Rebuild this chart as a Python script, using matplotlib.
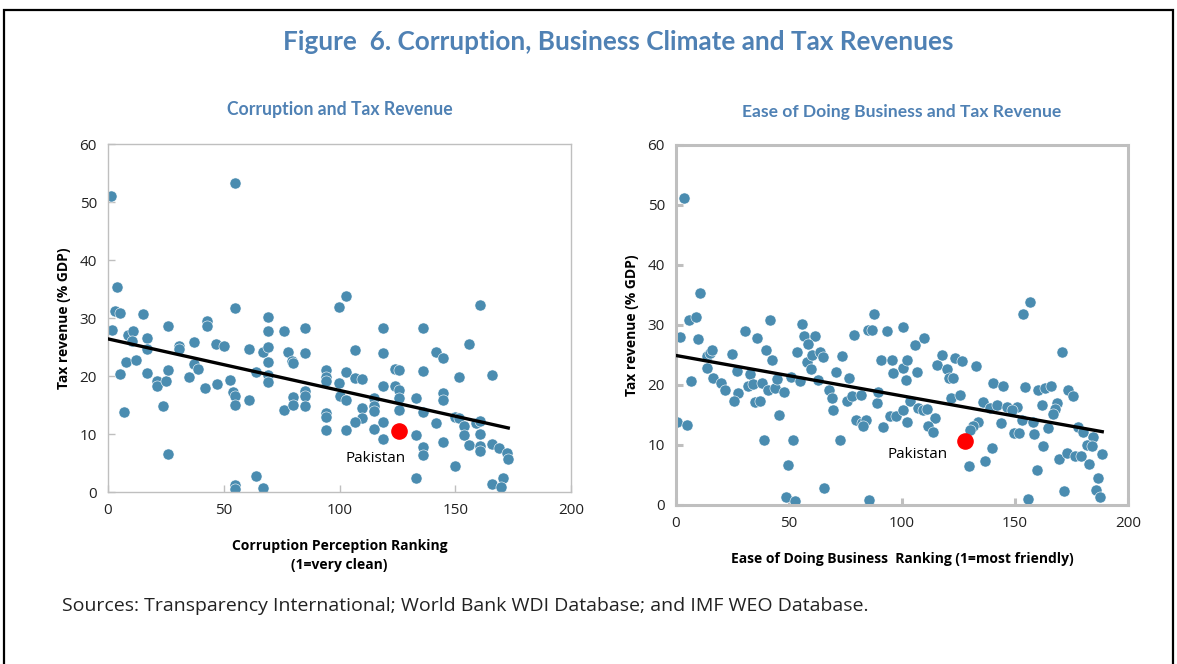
import numpy as np
import matplotlib
matplotlib.use("Agg")
import matplotlib.pyplot as plt
from matplotlib.patches import Rectangle

# Corruption Perception ranking vs tax revenue (% of GDP)
cpi_rank = [1.2, 54.9, 4, 2.9, 5.2, 15, 42.8, 54.9, 69, 99.7, 102.8, 1.9, 25.9, 42.9, 69, 75.9,
            84.9, 8.8, 10.9, 10.2, 17, 17, 30.8, 30.8, 37, 46.8, 50, 60.9, 66.8, 69, 69, 77.9,
            79.3, 80, 84.9, 7.9, 11.9, 5, 17, 21, 21, 25, 25.9, 35, 37, 39, 42, 46.9, 52.9,
            53.8, 54.9, 54.9, 60.9, 64, 69, 69, 75.9, 80, 80, 84.9, 84.9, 84.9, 94, 94, 94,
            94, 94, 94, 99.9, 100, 102.8, 102.8, 102.8, 23.9, 6.9, 25.9, 54.9, 54.9, 64, 67,
            160.9, 118.9, 135.9, 106.8, 118.9, 141.9, 144.8, 155.8, 124, 125.8, 135.9, 151.7,
            165.7, 106.8, 109.8, 118.9, 124, 125.8, 125.8, 132.9, 144.8, 144.8, 114.9, 114.9,
            114.9, 109.8, 109.8, 125.8, 135.9, 106.8, 118.9, 114.9, 118.9, 141.9, 149.8, 151.7,
            153.8, 153.8, 159, 160.9, 160.9, 132.9, 144.8, 155.8, 160.9, 160.9, 135.9, 135.9,
            165.7, 169, 172.2, 172.9, 149.8, 132.9, 165.7, 170.8, 169.9]
cpi_tax = [51.1, 53.2, 35.3, 31.2, 30.9, 30.7, 29.4, 31.8, 30.2, 31.9, 33.8, 28.0, 28.7, 28.7,
           27.8, 27.8, 28.3, 27.0, 27.7, 26.0, 26.5, 24.6, 25.2, 24.6, 25.8, 25.5, 25.1, 24.6,
           24.2, 25.0, 22.5, 24.2, 22.6, 22.2, 23.9, 22.4, 22.8, 20.3, 20.6, 19.1, 18.2, 19.1,
           21.1, 19.9, 22.0, 21.2, 17.9, 18.6, 19.3, 17.3, 16.5, 15.0, 15.9, 20.7, 20.2, 18.9,
           14.1, 16.4, 15.0, 17.5, 16.5, 14.8, 21.1, 19.9, 19.1, 13.6, 12.9, 10.7, 18.8, 16.5,
           20.7, 15.9, 10.7, 14.8, 13.8, 6.6, 1.2, 0.5, 2.7, 0.75,
           32.3, 28.2, 28.2, 24.4, 23.9, 24.2, 23.1, 25.5, 21.2, 21.1, 20.9, 19.9, 20.2, 19.7,
           19.4, 18.3, 18.3, 17.6, 16.2, 16.2, 17.1, 15.9, 16.2, 14.9, 14.0, 14.4, 12.7, 14.1,
           13.8, 12.1, 12.1, 10.8, 9.2, 11.9, 12.9, 12.7, 11.4, 9.9, 11.9, 12.2, 10.0, 9.9,
           8.6, 8.1, 8.0, 7.1, 7.7, 6.4, 8.3, 7.6, 6.7, 5.7, 4.4, 2.4, 1.4, 2.4, 0.8]

# Ease of Doing Business ranking vs tax revenue (% of GDP)
dbiz_rank = [3.5, 10.6, 5.8, 8.7, 30.7, 41.6, 55.8, 87.6, 85.1, 86.6, 93.5, 100.6, 1.8, 9.9,
             35.7, 56.8, 61.5, 58.5, 78.8, 13.6, 15, 15.8, 24.6, 39.7, 42.6, 53.7, 57.8, 60,
             63.7, 64.9, 59.7, 73.6, 90.6, 95.7, 100.6, 102.3, 13.6, 16.5, 19.9, 21.7, 26.8,
             32.7, 27.6, 25.7, 31.7, 33.9, 37.9, 35, 37.2, 40.9, 43.8, 44.6, 47.8, 50.8, 54.9,
             63, 70.7, 76.7, 67.7, 68.9, 69.6, 75.5, 77.7, 81.9, 88.8, 89.5, 79.6, 82.2, 84.1,
             82.9, 91.7, 94.7, 97.2, 100.6, 102.3, 6.8, 0.6, 4.7, 45.7, 38.9, 51.8, 72.6, 49.6,
             65.6, 48.7, 52.7, 85.5,
             153.7, 156.6, 105.8, 109.7, 170.7, 96.2, 101.8, 106.8, 115.6, 117.6, 119.8, 121,
             122.7, 123.5, 126.4, 132.7, 121.7, 125.7, 103.5, 107.2, 109.4, 110.9, 114.6, 111.6,
             113.6, 133.8, 131.6, 130.1, 139.7, 136.7, 129.6, 140.4, 144.8, 154.4, 160.3, 163.3,
             165.9, 173.6, 175.8, 135.7, 138.9, 141.9, 146.6, 150.7, 148.5, 161.8, 168.4, 167.7,
             166.7, 143.7, 153, 157.8, 164.7, 149.6, 151.9, 158.5, 162.5, 178, 180, 184.6,
             181.7, 183.9, 188.6, 169.6, 172.9, 176.5, 179.1, 182.7, 159.6, 171.7, 186.6,
             185.8, 187.6, 155.6]
dbiz_tax = [51.1, 35.3, 30.9, 31.3, 29.0, 30.8, 30.2, 31.8, 29.2, 29.1, 29.0, 29.6, 28.0, 27.7,
            27.9, 28.2, 28.2, 26.9, 28.4, 24.8, 25.4, 25.8, 25.2, 25.8, 24.1, 25.5, 23.8, 25.0,
            25.5, 24.6, 22.6, 24.8, 24.1, 24.1, 22.8, 24.1, 22.8, 21.2, 20.3, 19.2, 22.3, 21.8,
            18.7, 17.4, 19.8, 20.1, 20.3, 17.1, 17.4, 19.2, 19.5, 21.0, 18.8, 21.4, 20.7, 20.9,
            22.2, 21.2, 19.1, 17.9, 15.9, 17.3, 18.2, 18.4, 17.0, 18.8, 14.2, 13.7, 14.2, 13.2,
            13.0, 14.8, 14.8, 15.9, 13.9, 20.6, 13.9, 13.4, 15.0, 10.9, 10.9, 10.9, 6.7, 2.8,
            1.4, 0.7, 0.8,
            31.9, 33.8, 26.6, 27.9, 25.5, 22.0, 20.9, 22.2, 23.4, 25.0, 22.6, 21.2, 21.2, 24.5,
            24.0, 23.1, 17.8, 18.3, 17.4, 16.2, 15.9, 16.0, 14.5, 13.1, 12.1, 13.9, 13.1, 12.5,
            9.5, 7.4, 6.5, 20.3, 19.8, 19.7, 19.2, 19.5, 19.9, 19.1, 18.2, 17.1, 16.2, 16.7,
            16.3, 16.4, 15.8, 16.7, 17.0, 16.0, 15.2, 13.7, 14.1, 13.9, 12.9, 12.0, 12.0, 11.9,
            9.9, 13.0, 12.1, 11.4, 10.0, 9.9, 8.5, 7.7, 8.6, 8.2, 8.1, 6.8, 5.8, 2.3, 4.5, 2.5,
            1.4, 1.0]

# Pakistan highlighted in red
pak_cpi = (125.8, 10.5)
pak_dbiz = (127.9, 10.6)

dot_color = "#4a8cb0"
blue_title = "#4f81b4"
spine_gray = "#bfbfbf"

fig = plt.figure(figsize=(11.77, 6.64), dpi=100)

# black frame around the figure box
fig.add_artist(Rectangle((4/1177, -0.05), 1169/1177, 1.05 - 10/664, transform=fig.transFigure,
                         fill=False, edgecolor="black", linewidth=1.6))

fig.text(0.525, 1 - 42/664, "Figure  6. Corruption, Business Climate and Tax Revenues",
         ha="center", va="center", fontsize=18.8, fontweight="bold", color=blue_title, family="Lato")

ax1 = fig.add_axes([108/1177, 1 - 492/664, 463/1177, 348/664])
ax2 = fig.add_axes([676/1177, 1 - 505/664, 452/1177, 360/664])


def draw_panel(ax, xs, ys, pak, spine_lw):
    ax.scatter(xs, ys, s=64, color=dot_color, edgecolors="white", linewidths=0.4, zorder=2)
    slope, intercept = np.polyfit(xs, ys, 1)
    xx = np.array([0, max(xs)])
    ax.plot(xx, intercept + slope * xx, color="black", linewidth=2.4, zorder=3)
    ax.scatter([pak[0]], [pak[1]], s=120, color="red", zorder=4)
    ax.set_xlim(0, 200)
    ax.set_ylim(0, 60)
    ax.set_xticks([0, 50, 100, 150, 200])
    ax.set_yticks(range(0, 61, 10))
    for sp in ax.spines.values():
        sp.set_color(spine_gray)
        sp.set_linewidth(spine_lw)
    ax.tick_params(direction="in", length=5, width=spine_lw, color=spine_gray,
                   labelsize=11, labelcolor="#222222", pad=8)
    for lab in ax.get_xticklabels() + ax.get_yticklabels():
        lab.set_family("Open Sans")
    ax.set_ylabel("Tax revenue (% GDP)", fontsize=10, fontweight="bold", family="Open Sans",
                  labelpad=6)


draw_panel(ax1, cpi_rank, cpi_tax, pak_cpi, 1.0)
draw_panel(ax2, dbiz_rank, dbiz_tax, pak_dbiz, 2.2)

ax1.text(102.4, 5.7, "Pakistan", fontsize=11, va="center", family="Open Sans")
ax2.text(93.8, 8.5, "Pakistan", fontsize=11, va="center", family="Open Sans")

ax1.set_title("Corruption and Tax Revenue", fontsize=12.7, fontweight="bold", color=blue_title,
              family="Lato", pad=21)
ax2.set_title("Ease of Doing Business and Tax Revenue", fontsize=12.6, fontweight="bold",
              color=blue_title, family="Lato", pad=20)
ax1.set_xlabel("Corruption Perception Ranking\n(1=very clean)", fontsize=10, fontweight="bold",
               family="Open Sans", linespacing=1.5, labelpad=15)
ax2.set_xlabel("Ease of Doing Business  Ranking (1=most friendly)", fontsize=10,
               fontweight="bold", family="Open Sans", labelpad=15)

fig.text(62/1177, 1 - 606/664,
         "Sources: Transparency International; World Bank WDI Database; and IMF WEO Database.",
         fontsize=14, va="center", color="#222222", family="Open Sans")

fig.savefig("out.png", dpi=100)
